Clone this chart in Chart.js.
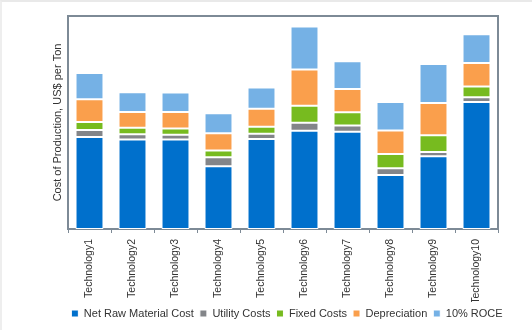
<!DOCTYPE html>
<html>
<head>
<meta charset="utf-8">
<script src="https://cdn.jsdelivr.net/npm/chart.js@4/dist/chart.umd.min.js"></script>
<style>
  html, body { margin: 0; padding: 0; background: #fff; }
  #wrap { width: 532px; height: 330px; box-sizing: border-box; border-top: 2px solid #e9e9e9; border-left: 2px solid #eeeeee; }
</style>
</head>
<body>
<div id="wrap"><canvas id="grafico" width="530" height="328"></canvas></div>
<script>
// categorie e valori (scala relativa, asse senza etichette)
let tecnologie = ['Technology1','Technology2','Technology3','Technology4','Technology5',
                  'Technology6','Technology7','Technology8','Technology9','Technology10'];
let materiaPrima = [93.3, 90.7, 90.7, 63.7, 91.3, 99.7, 98.7, 54.7, 73.7, 128.7];
let utility      = [7.0, 5.3, 5.0, 9.0, 5.3, 8.0, 6.3, 7.0, 4.3, 5.0];
let costiFissi   = [8.3, 6.7, 6.3, 7.0, 7.0, 17.3, 13.3, 14.3, 17.0, 10.7];
let ammortamento = [23.0, 16.0, 16.7, 17.3, 18.3, 36.7, 23.7, 24.0, 32.7, 24.0];
let roce         = [26.7, 20.0, 19.7, 20.3, 21.7, 43.7, 28.0, 28.7, 39.7, 29.0];

let font = "'Liberation Sans', Arial, sans-serif";

function serie(nome, valori, colore) {
    return {
        label: nome,
        data: valori,
        backgroundColor: colore,
        borderColor: '#ffffff',
        borderWidth: 1,
        borderSkipped: false,
        barPercentage: 0.65,
        categoryPercentage: 1
    };
}

// cornice grigia attorno all'area del grafico
let cornice = {
    id: 'cornice',
    afterDatasetsDraw(chart) {
        let a = chart.chartArea;
        let c = chart.ctx;
        c.save();
        c.strokeStyle = '#7d8a96';
        c.lineWidth = 2;
        c.beginPath();
        c.moveTo(a.left, a.bottom);
        c.lineTo(a.left, a.top);
        c.lineTo(a.right, a.top);
        c.lineTo(a.right, a.bottom);
        c.stroke();
        c.restore();
    }
};

let config = {
    type: 'bar',
    data: {
        labels: tecnologie,
        datasets: [
            serie('Net Raw Material Cost', materiaPrima, '#0070cc'),
            serie('Utility Costs', utility, '#838589'),
            serie('Fixed Costs', costiFissi, '#77bb1f'),
            serie('Depreciation', ammortamento, '#fa9f4c'),
            serie('10% ROCE', roce, '#75b1e5')
        ]
    },
    options: {
        responsive: false,
        animation: false,
        layout: { padding: { left: 40, right: 0, top: 14, bottom: 1 } },
        plugins: {
            legend: {
                position: 'bottom',
                labels: {
                    boxWidth: 7,
                    boxHeight: 7,
                    padding: 6,
                    color: '#333333',
                    font: { family: font, size: 11 }
                }
            },
            tooltip: { enabled: false }
        },
        scales: {
            x: {
                stacked: true,
                grid: { display: true, drawOnChartArea: false, offset: true, tickLength: 4, color: '#7d8a96' },
                border: { display: true, color: '#7d8a96', width: 2 },
                afterFit(scale) { scale.height = 73; },
                ticks: {
                    minRotation: 90,
                    maxRotation: 90,
                    padding: 6,
                    color: '#333333',
                    font: { family: font, size: 10.5 }
                }
            },
            y: {
                stacked: true,
                min: 0,
                max: 216,
                grid: { display: false },
                border: { display: false },
                ticks: { display: false },
                afterFit(scale) { scale.width = 26; },
                title: {
                    display: true,
                    text: 'Cost of Production, US$ per Ton',
                    color: '#333333',
                    font: { family: font, size: 11 },
                    padding: { top: 9, bottom: 4 }
                }
            },
            destra: {
                position: 'right',
                grid: { display: false },
                border: { display: false },
                ticks: { display: false },
                afterFit(scale) { scale.width = 34; }
            }
        }
    },
    plugins: [cornice]
};

let ctx = document.getElementById('grafico').getContext('2d');
new Chart(ctx, config);
</script>
</body>
</html>
